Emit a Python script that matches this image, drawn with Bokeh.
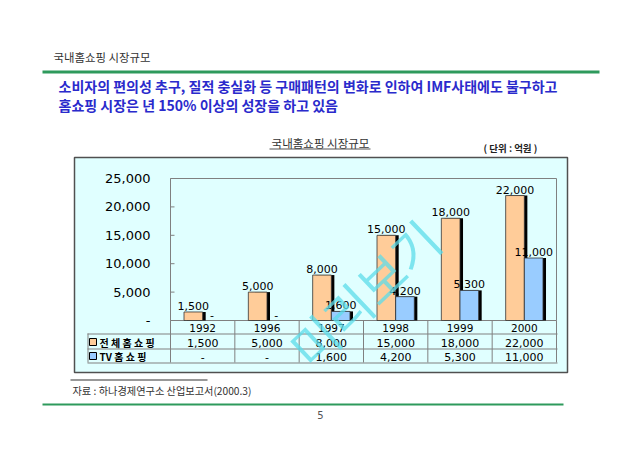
from bokeh.plotting import figure
from bokeh.models import ColumnDataSource, Range1d, CDSView, BooleanFilter
from bokeh.transform import dodge
from bokeh.core.properties import value
from bokeh.embed import file_html
from bokeh.resources import INLINE

# ---------------- data ----------------
years = ["1992", "1996", "1997", "1998", "1999", "2000"]
total_shop = [1500, 5000, 8000, 15000, 18000, 22000]
tv_shop = [0, 0, 1600, 4200, 5300, 11000]
y_ticks = [0, 5000, 10000, 15000, 20000, 25000]
series_names = ["전 체 홈 쇼 핑", "TV 홈 쇼 핑"]
series_colors = ["#FFCC99", "#99CCFF"]

header = "국내홈쇼핑 시장규모"
lead_1 = "소비자의 편의성 추구, 질적 충실화 등 구매패턴의 변화로 인하여 IMF사태에도 불구하고"
lead_2 = "홈쇼핑 시장은 년 150% 이상의 성장을 하고 있음"
chart_title = "국내홈쇼핑 시장규모"
unit_text = "( 단위 : 억원 )"
source_text = "자료 : 하나경제연구소 산업보고서(2000.3)"
page_no = "5"
watermark = "미리보기"


def fmt(v):
    return f"{v:,}" if v else "-"


KR = "Noto Sans CJK KR"
NUM = "DejaVu Sans"

W, H = 624, 436
OX, OY = 0, 0

# plot area (reference pixels) and the scale derived from it
FL, FT, FR, FB = 170, 178, 556, 320
YMAX = y_ticks[-1]
PX = (FR - FL) / len(years)          # pixels per category
VPP = YMAX / (FB - FT)               # value units per pixel


def dx(X):
    return (X - FL) / PX - 0.5


def dy(Y):
    return (FB - Y) * VPP


p = figure(width=W, height=H, x_range=Range1d(dx(OX), dx(OX + W)), y_range=Range1d(dy(OY + H), dy(OY)),
           output_backend="svg", toolbar_location=None, x_axis_location=None, y_axis_location=None,
           min_border=0, min_border_left=0, min_border_right=0, min_border_top=0, min_border_bottom=0)
p.background_fill_color = "white"
p.border_fill_color = "white"
p.outline_line_color = None
p.grid.visible = False


def box(x0, y0, x1, y1, fill=None, line=None, lw=1.0):
    p.quad(left=[dx(x0)], right=[dx(x1)], top=[dy(y0)], bottom=[dy(y1)],
           fill_color=fill if fill else "white", fill_alpha=1.0 if fill else 0.0,
           line_color=line if line else "black", line_alpha=1.0 if line else 0.0, line_width=lw)


def text(x, y, s, size, font=KR, color="#333333", align="left", style="normal", angle=0.0, alpha=1.0):
    p.text(x=[dx(x)], y=[dy(y)], text=[s], text_font=value(font), text_font_size=size,
           text_color=color, text_align=align, text_baseline="middle", text_font_style=style,
           angle=angle, text_alpha=alpha)


# chart background box
box(74, 157, 567, 372, fill="#E0FFFF", line="#505050", lw=1.5)

# slide decorations
text(53, 56, header, "11.4px")
box(42, 70, 599, 73, fill="#2E9A5C")
text(58, 85, lead_1, "14px", color="#2A2ACC", style="bold")
text(58, 104, lead_2, "14px", color="#2A2ACC", style="bold")
text(320, 142, chart_title, "11.5px", align="center")
box(269, 148, 370, 149, fill="#555555")
text(483, 147, unit_text, "9.5px", color="#222222", style="bold")
box(70, 379, 207, 380, fill="#333333")
text(72, 390, source_text, "10.2px", color="#333333")
box(42, 403, 563, 405, fill="#2E9A5C")
text(320, 414, page_no, "10px", color="#555555", align="center", font=NUM)

# plot area border
box(FL, FT, FR, FB, line="#808080", lw=1)

# y axis (through the value scale)
xi = list(range(len(years)))
p.segment(x0=[dx(FL)] * len(y_ticks), x1=[dx(FL + 4)] * len(y_ticks), y0=y_ticks, y1=y_ticks,
          line_color="#808080", line_width=1)
p.text(x=[dx(150)] * len(y_ticks), y=y_ticks, text=[fmt(t) for t in y_ticks],
       text_font=value(NUM), text_font_size="13px", text_color="black",
       text_align="right", text_baseline="middle")

# table grid
GRID = "#808080"
for yy in (333, 348, 362):
    box(87, yy, FR + 1, yy + 1, fill=GRID)
box(87, 333, 88, 362, fill=GRID)
p.segment(x0=[i - 0.5 for i in xi] + [xi[-1] + 0.5], x1=[i - 0.5 for i in xi] + [xi[-1] + 0.5],
          y0=[0] * (len(xi) + 1), y1=[dy(362)] * (len(xi) + 1), line_color=GRID, line_width=1)

# legend keys in table
box(89, 338, 96, 345, fill=series_colors[0], line="black", lw=1)
box(89, 352, 96, 359, fill=series_colors[1], line="black", lw=1)
text(99, 342, series_names[0], "10px", color="black", style="bold")
text(99, 356, series_names[1], "10px", color="black", style="bold")

# ---------------- bars ----------------
src = ColumnDataSource(dict(
    xi=xi, year=years, total=total_shop, tv=tv_shop,
    total_lbl=[fmt(v) for v in total_shop], tv_lbl=[fmt(v) for v in tv_shop],
))
BW = 0.29
OFF = 0.145
SH = 0.047
tv_view = CDSView(filter=BooleanFilter([v > 0 for v in tv_shop]))

p.vbar(x=dodge("xi", -OFF + SH), top="total", width=BW, source=src,
       fill_color="black", line_color=None)
p.vbar(x=dodge("xi", -OFF), top="total", width=BW, source=src,
       fill_color=series_colors[0], line_color="#333333", line_width=0.8)
p.vbar(x=dodge("xi", OFF + SH), top="tv", width=BW, source=src, view=tv_view,
       fill_color="black", line_color=None)
p.vbar(x=dodge("xi", OFF), top="tv", width=BW, source=src, view=tv_view,
       fill_color=series_colors[1], line_color="#333333", line_width=0.8)

p.text(x=dodge("xi", -OFF), y="total", text="total_lbl", source=src, y_offset=-2,
       text_align="center", text_baseline="bottom",
       text_font=value(NUM), text_font_size="11px", text_color="black")
p.text(x=dodge("xi", OFF), y="tv", text="tv_lbl", source=src, y_offset=-2,
       text_align="center", text_baseline="bottom",
       text_font=value(NUM), text_font_size="11px", text_color="black")

# table: year row and value rows
p.text(x="xi", y=dy(327), text="year", source=src, text_align="center", text_baseline="middle",
       text_font=value(NUM), text_font_size="10.5px", text_color="black")
p.text(x="xi", y=dy(342), text="total_lbl", source=src, text_align="center", text_baseline="middle",
       text_font=value(NUM), text_font_size="11px", text_color="black")
p.text(x="xi", y=dy(356), text="tv_lbl", source=src, text_align="center", text_baseline="middle",
       text_font=value(NUM), text_font_size="11px", text_color="black")

# watermark
text(363, 292, watermark, "50px", color="#5CDCEA", align="center", angle=0.76, alpha=0.75)

open("out.html", "w").write(file_html(p, INLINE))
